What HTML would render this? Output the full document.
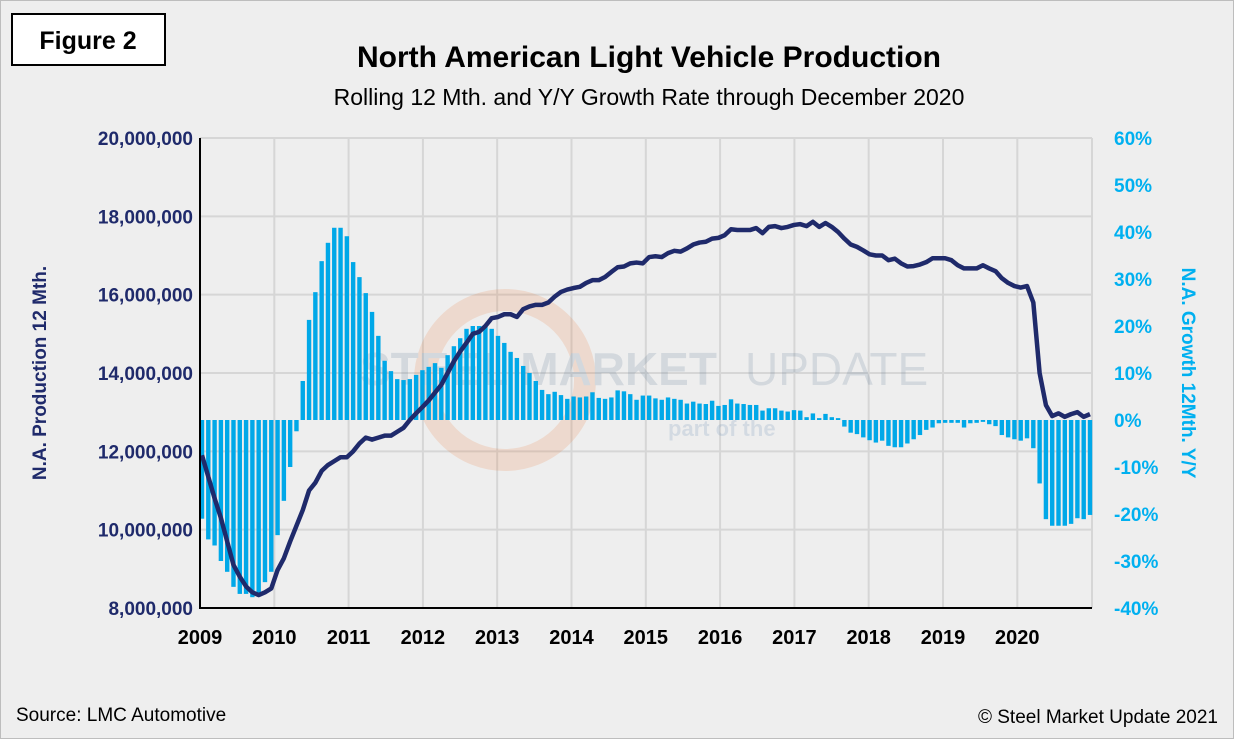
<!DOCTYPE html>
<html><head><meta charset="utf-8"><style>
body{margin:0;background:#fff;}
svg{display:block;font-family:"Liberation Sans",Arial,sans-serif;}
</style></head><body>
<svg width="1234" height="739" viewBox="0 0 1234 739">
<rect x="0.5" y="0.5" width="1233" height="738" fill="#eeeeee" stroke="#bdbdbd"/>
<rect x="12" y="14" width="153" height="51" fill="#fff" stroke="#000" stroke-width="2"/>
<text x="88" y="49" text-anchor="middle" font-size="25" font-weight="bold">Figure 2</text>
<text x="649" y="67" text-anchor="middle" font-size="30" font-weight="bold">North American Light Vehicle Production</text>
<text x="649" y="105" text-anchor="middle" font-size="23">Rolling 12 Mth. and Y/Y Growth Rate through December 2020</text>
<g id="grid"></g>
<g opacity="0.16">
<circle cx="505" cy="380" r="80" fill="none" stroke="#e8742c" stroke-width="22"/>
<text x="360" y="385" font-size="46" font-weight="bold" fill="#4a6a8a">STEEL MARKET</text>
<text x="745" y="385" font-size="46" fill="#4a6a8a">UPDATE</text>
<text x="668" y="436" font-size="22" font-weight="bold" fill="#4a7aaa">part of the</text>
</g>
<g id="bars"></g>
<g id="line"></g>
<g id="axes"></g>
<text transform="translate(46,373) rotate(-90)" text-anchor="middle" font-size="19" font-weight="bold" fill="#1f2a6b">N.A. Production 12 Mth.</text>
<text transform="translate(1182,373) rotate(90)" text-anchor="middle" font-size="19" font-weight="bold" fill="#00b0f0">N.A. Growth 12Mth. Y/Y</text>
<text x="16" y="721" font-size="19">Source: LMC Automotive</text>
<text x="1218" y="723" text-anchor="end" font-size="19">© Steel Market Update 2021</text>
</svg>
<script>
const years = ["2009","2010","2011","2012","2013","2014","2015","2016","2017","2018","2019","2020"];
const leftTicks = [8,10,12,14,16,18,20];
const rightTicks = [-40,-30,-20,-10,0,10,20,30,40,50,60];
const production = [11.9,11.35,10.8,10.3,9.7,9.1,8.8,8.55,8.4,8.33,8.4,8.5,8.97,9.27,9.7,10.1,10.5,11.0,11.2,11.5,11.65,11.75,11.85,11.85,12.0,12.2,12.35,12.3,12.35,12.4,12.4,12.5,12.6,12.8,12.97,13.13,13.3,13.5,13.7,14.0,14.3,14.55,14.77,15.0,15.05,15.2,15.4,15.43,15.5,15.5,15.43,15.63,15.7,15.74,15.74,15.8,15.95,16.07,16.13,16.17,16.2,16.3,16.37,16.37,16.45,16.58,16.7,16.72,16.8,16.82,16.8,16.96,16.98,16.96,17.06,17.12,17.1,17.18,17.28,17.33,17.35,17.43,17.45,17.52,17.67,17.65,17.65,17.65,17.7,17.57,17.73,17.75,17.7,17.73,17.78,17.8,17.75,17.86,17.73,17.83,17.73,17.6,17.43,17.28,17.22,17.13,17.03,17.0,17.0,16.88,16.92,16.8,16.72,16.73,16.77,16.83,16.93,16.93,16.93,16.88,16.75,16.67,16.67,16.67,16.75,16.67,16.6,16.42,16.3,16.22,16.18,16.22,15.8,14.0,13.18,12.9,12.97,12.88,12.95,13.0,12.88,12.95];
const growth = [-21,-25.4,-26.7,-30,-32.3,-35.5,-37,-37,-37.7,-37,-34.5,-32.3,-24.5,-17.2,-10,-2.4,8.3,21.3,27.2,33.8,37.7,40.9,40.9,39.1,33.6,30.4,27,23,17.9,12.6,10.4,8.7,8.5,8.7,9.6,10.6,11.3,12.1,11.1,13.8,15.7,17.4,19.4,20,20,19.8,19.4,17.9,16.4,14.5,13.2,11.5,10,8.3,6.4,5.5,6,5.3,4.5,5.0,4.8,5.0,5.9,4.7,4.5,4.8,6.3,6.1,5.5,4.3,5.2,5.2,4.6,4.3,4.8,4.5,4.3,3.5,3.9,3.5,3.4,4.1,3.0,3.2,4.4,3.5,3.4,3.2,3.2,2.0,2.5,2.5,2.0,1.8,2.1,2.0,0.6,1.4,0.4,1.3,0.6,0.4,-1.4,-2.7,-3.0,-3.7,-4.3,-4.8,-4.4,-5.5,-5.8,-5.8,-5.0,-4.1,-3.2,-2.1,-1.6,-0.7,-0.6,-0.6,-0.6,-1.6,-0.7,-0.6,-0.4,-0.9,-1.3,-3.2,-3.7,-4.1,-4.4,-3.9,-6.0,-13.5,-21.1,-22.5,-22.5,-22.5,-22.1,-20.9,-21.1,-20.2];

const NS="http://www.w3.org/2000/svg";
const X0=200,X1=1092,Y0=138,Y1=608;
function xi(i){return 202+i*(888/(growth.length-1));}
function yL(v){return Y1-(v-8)/(20-8)*(Y1-Y0);}
function yR(v){return Y1-(v+40)/100*(Y1-Y0);}
function xYear(k){return X0+k*74.3;}
function mk(tag,attrs,parent){const e=document.createElementNS(NS,tag);for(const k in attrs)e.setAttribute(k,attrs[k]);parent.appendChild(e);return e;}
const grid=document.getElementById('grid'),bars=document.getElementById('bars'),line=document.getElementById('line'),axes=document.getElementById('axes');
leftTicks.forEach(v=>{
  const l=mk('line',{x1:X0,x2:X1,y1:yL(v),y2:yL(v),stroke:'#d6d6d6','stroke-width':2},grid);
  
  
  const t=mk('text',{x:193,y:yL(v)+7,'text-anchor':'end','font-size':19,'font-weight':'bold',fill:'#1f2a6b'},axes);
  t.textContent=(v*1000000).toLocaleString('en-US');
  
  
});
rightTicks.forEach(v=>{
  const t=mk('text',{x:1114,y:yR(v)+7,'font-size':19,'font-weight':'bold',fill:'#00b0f0'},axes);
  t.textContent=v+'%';
  
  
});
years.forEach((y,k)=>{
  if(k>0){const l=mk('line',{x1:xYear(k),x2:xYear(k),y1:Y0,y2:Y1,stroke:'#d6d6d6','stroke-width':2},grid);
  
  }
  const t=mk('text',{x:xYear(k),y:644,'text-anchor':'middle','font-size':20,'font-weight':'bold'},axes);
  t.textContent=y;
  
  
});
{const l=mk('line',{x1:X1,x2:X1,y1:Y0,y2:Y1,stroke:'#d6d6d6','stroke-width':2},grid);

}
growth.forEach((g,i)=>{
  const y0=yR(0),y=yR(g);
  const r=mk('rect',{x:xi(i)-2.2,y:Math.min(y0,y),width:4.4,height:Math.max(1,Math.abs(y-y0)),fill:'#00a8e8'},bars);
  
  
});
const p=mk('polyline',{points:production.map((v,i)=>xi(i)+','+yL(v)).join(' '),fill:'none',stroke:'#1f2a6b','stroke-width':4.5,'stroke-linejoin':'round'},line);


const ax=mk('path',{d:`M${X0},${Y0}V${Y1}H${X1}`,fill:'none',stroke:'#000','stroke-width':2},axes);


</script>
</body></html>
